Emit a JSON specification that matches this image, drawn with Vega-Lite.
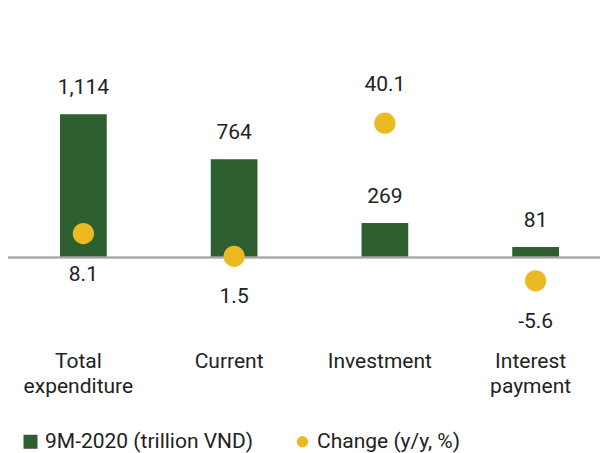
{
  "$schema": "https://vega.github.io/schema/vega-lite/v6.json",
  "autosize": {"type": "none"},
  "padding": {"left": 8, "top": 0, "right": 0, "bottom": 113},
  "width": 592,
  "height": 340,
  "background": "white",
  "config": {
    "view": {"stroke": null},
    "font": "Roboto",
    "text": {"font": "Roboto", "fontSize": 21, "color": "#222222"}
  },
  "data": {
    "values": [
      {"category": "Total expenditure", "value": 1114, "change": 8.1},
      {"category": "Current", "value": 764, "change": 1.5},
      {"category": "Investment", "value": 269, "change": 40.1},
      {"category": "Interest payment", "value": 81, "change": -5.6}
    ]
  },
  "resolve": {"scale": {"y": "independent"}},
  "layer": [
    {
      "layer": [
        {
          "mark": {"type": "bar", "color": "#2e5f30"},
          "encoding": {
            "x": {"field": "category", "type": "nominal", "sort": null,
              "scale": {"range": [0, 603], "paddingInner": 0.69, "paddingOuter": 0.345},
              "axis": {"title": null, "domain": false, "ticks": false, "labelAngle": 0, "labelFont": "Roboto", "labelFontSize": 21, "labelColor": "#222222", "labelPadding": 10, "labelOffset": -5, "labelLineHeight": 25, "labelLimit": 0, "labelExpr": "split(datum.label, ' ')"}},
            "y": {"field": "value", "type": "quantitative", "scale": {"domain": [-641, 2001], "nice": false, "zero": false}, "axis": null},
            "color": {"datum": "9M-2020 (trillion VND)", "type": "nominal",
              "scale": {"domain": ["9M-2020 (trillion VND)", "Change (y/y, %)"], "range": ["#2e5f30", "#ebba22"]},
              "legend": {"title": null, "orient": "none", "legendX": 12, "legendY": 431, "direction": "horizontal", "columns": 2, "columnPadding": 38, "padding": 0, "symbolSize": 196, "labelOffset": 4, "labelFont": "Roboto", "labelFontSize": 21, "labelColor": "#222222", "labelLimit": 0,
                "encode": {"symbols": {"update": {
                  "shape": {"signal": "datum.value == 'Change (y/y, %)' ? 'circle' : 'square'"},
                  "size": {"signal": "datum.value == 'Change (y/y, %)' ? 132 : 196"},
                  "fill": {"signal": "datum.value == 'Change (y/y, %)' ? '#ebba22' : '#2e5f30'"},
                  "fillOpacity": {"value": 1},
                  "opacity": {"value": 1},
                  "strokeWidth": {"value": 0}
                }}}}
            }
          }
        },
        {
          "mark": {"type": "rule", "color": "#a6a6a6", "strokeWidth": 1.3},
          "encoding": {
            "y": {"datum": 0, "type": "quantitative", "scale": {"domain": [-641, 2001], "nice": false, "zero": false}, "axis": null}
          }
        },
        {
          "mark": {"type": "text", "baseline": "alphabetic", "dy": -20},
          "encoding": {
            "x": {"field": "category", "type": "nominal", "sort": null,
              "scale": {"range": [0, 603], "paddingInner": 0.69, "paddingOuter": 0.345},
              "axis": {"title": null, "domain": false, "ticks": false, "labelAngle": 0, "labelFont": "Roboto", "labelFontSize": 21, "labelColor": "#222222", "labelPadding": 10, "labelOffset": -5, "labelLineHeight": 25, "labelLimit": 0, "labelExpr": "split(datum.label, ' ')"}},
            "y": {"field": "value", "type": "quantitative", "scale": {"domain": [-641, 2001], "nice": false, "zero": false}, "axis": null},
            "text": {"field": "value", "type": "quantitative", "format": ","}
          }
        }
      ]
    },
    {
      "layer": [
        {
          "mark": {"type": "point", "filled": true, "opacity": 1, "size": 452, "shape": "circle", "color": "#ebba22"},
          "encoding": {
            "x": {"field": "category", "type": "nominal", "sort": null,
              "scale": {"range": [0, 603], "paddingInner": 0.69, "paddingOuter": 0.345},
              "axis": {"title": null, "domain": false, "ticks": false, "labelAngle": 0, "labelFont": "Roboto", "labelFontSize": 21, "labelColor": "#222222", "labelPadding": 10, "labelOffset": -5, "labelLineHeight": 25, "labelLimit": 0, "labelExpr": "split(datum.label, ' ')"}},
            "y": {"field": "change", "type": "quantitative", "scale": {"domain": [-22.75, 75.8], "nice": false, "zero": false}, "axis": null},
            "color": {"datum": "Change (y/y, %)", "type": "nominal"}
          }
        },
        {
          "transform": [{"filter": "datum.change > 20"}],
          "mark": {"type": "text", "baseline": "alphabetic", "dy": -32},
          "encoding": {
            "x": {"field": "category", "type": "nominal", "sort": null,
              "scale": {"range": [0, 603], "paddingInner": 0.69, "paddingOuter": 0.345},
              "axis": {"title": null, "domain": false, "ticks": false, "labelAngle": 0, "labelFont": "Roboto", "labelFontSize": 21, "labelColor": "#222222", "labelPadding": 10, "labelOffset": -5, "labelLineHeight": 25, "labelLimit": 0, "labelExpr": "split(datum.label, ' ')"}},
            "y": {"field": "change", "type": "quantitative", "scale": {"domain": [-22.75, 75.8], "nice": false, "zero": false}, "axis": null},
            "text": {"field": "change", "type": "nominal"}
          }
        },
        {
          "transform": [{"filter": "datum.change <= 20"}],
          "mark": {"type": "text", "baseline": "alphabetic", "dy": 47},
          "encoding": {
            "x": {"field": "category", "type": "nominal", "sort": null,
              "scale": {"range": [0, 603], "paddingInner": 0.69, "paddingOuter": 0.345},
              "axis": {"title": null, "domain": false, "ticks": false, "labelAngle": 0, "labelFont": "Roboto", "labelFontSize": 21, "labelColor": "#222222", "labelPadding": 10, "labelOffset": -5, "labelLineHeight": 25, "labelLimit": 0, "labelExpr": "split(datum.label, ' ')"}},
            "y": {"field": "change", "type": "quantitative", "scale": {"domain": [-22.75, 75.8], "nice": false, "zero": false}, "axis": null},
            "text": {"field": "change", "type": "nominal"}
          }
        }
      ]
    }
  ]
}
